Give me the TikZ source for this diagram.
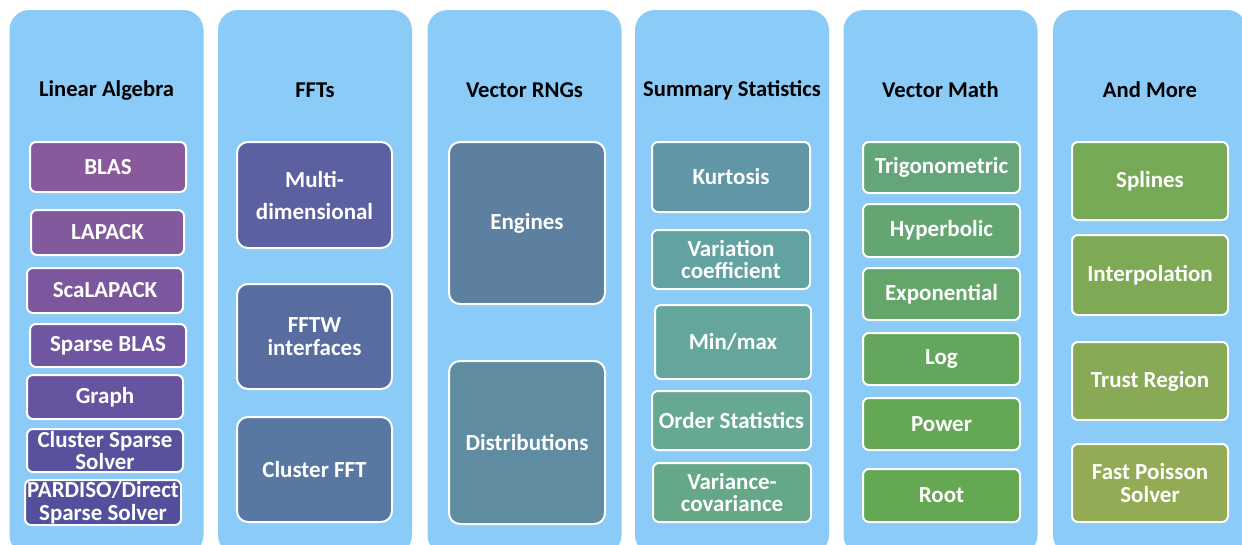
\documentclass[tikz,border=0pt]{standalone}
\usepackage{fontspec}
\setmainfont{Carlito}

\definecolor{panelblue}{RGB}{138,203,247}
\definecolor{la1}{RGB}{136,90,156}
\definecolor{la2}{RGB}{130,89,157}
\definecolor{la3}{RGB}{124,87,158}
\definecolor{la4}{RGB}{112,85,160}
\definecolor{la5}{RGB}{102,84,160}
\definecolor{la6}{RGB}{88,82,158}
\definecolor{la7}{RGB}{82,80,156}
\definecolor{fft1}{RGB}{90,96,160}
\definecolor{fft2}{RGB}{88,108,160}
\definecolor{fft3}{RGB}{88,120,162}
\definecolor{rng1}{RGB}{94,128,160}
\definecolor{rng2}{RGB}{96,140,162}
\definecolor{st1}{RGB}{96,150,165}
\definecolor{st2}{RGB}{98,162,162}
\definecolor{st3}{RGB}{100,166,155}
\definecolor{st4}{RGB}{102,168,146}
\definecolor{st5}{RGB}{100,168,136}
\definecolor{vm1}{RGB}{100,166,122}
\definecolor{vm2}{RGB}{100,166,114}
\definecolor{vm3}{RGB}{100,166,106}
\definecolor{vm4}{RGB}{100,166,92}
\definecolor{vm5}{RGB}{100,168,86}
\definecolor{vm6}{RGB}{100,168,84}
\definecolor{am1}{RGB}{118,170,86}
\definecolor{am2}{RGB}{126,170,86}
\definecolor{am3}{RGB}{136,170,86}
\definecolor{am4}{RGB}{146,172,86}

\tikzset{
  panel/.style={fill=panelblue, rounded corners=20pt, minimum width=194pt, minimum height=545pt, inner sep=0pt},
  coltitle/.style={font=\fontsize{22.6}{24}\selectfont\bfseries, text=black},
  item/.style={draw=white, line width=2pt, rounded corners=6pt, text=white, font=\fontsize{23}{22.5}\selectfont\bfseries, align=center, inner sep=0pt},
  bigitem/.style={item, rounded corners=11pt}
}

\begin{document}
\begin{tikzpicture}[x=1pt,y=-1pt]
  \useasboundingbox (0,0) rectangle (1242,544);
  \clip (0,0) rectangle (1242,544);
  \node[panel] (p1) at (106.5,282.5) {};
  \node[panel] (p2) at (315,282.5) {};
  \node[panel] (p3) at (524.5,282.5) {};
  \node[panel] (p4) at (732,282.5) {};
  \node[panel] (p5) at (940.5,282.5) {};
  \node[panel] (p6) at (1150,282.5) {};
  \node[coltitle] (t1) at (106.5,90) {Linear Algebra};
  \node[coltitle] (t2) at (315,90) {FFTs};
  \node[coltitle] (t3) at (524.5,90) {Vector RNGs};
  \node[coltitle] (t4) at (732,90) {Summary Statistics};
  \node[coltitle] (t5) at (940.5,90) {Vector Math};
  \node[coltitle] (t6) at (1150,90) {And More};
  % linear algebra
  \node[item, fill=la1, minimum width=156pt, minimum height=50pt] (blas) at (108,167) {BLAS};
  \node[item, fill=la2, minimum width=153pt, minimum height=45pt] (lapack) at (107.5,232.5) {LAPACK};
  \node[item, fill=la3, minimum width=156pt, minimum height=45pt] (scalapack) at (105,290.5) {ScaLAPACK};
  \node[item, fill=la4, minimum width=156pt, minimum height=43pt] (sparseblas) at (108,345.5) {Sparse BLAS};
  \node[item, fill=la5, minimum width=156pt, minimum height=44pt] (graph) at (105,397) {Graph};
  \node[item, fill=la6, minimum width=156pt, minimum height=43pt] (cluster) at (105,450.5) {Cluster Sparse\\Solver};
  \node[item, fill=la7, minimum width=156pt, minimum height=45pt] (pardiso) at (103,502.5) {PARDISO/Direct\\Sparse Solver};
  % ffts
  \node[bigitem, fill=fft1, minimum width=155pt, minimum height=106pt, font=\fontsize{23}{32}\selectfont\bfseries] (multidim) at (314.5,195) {Multi-\\dimensional};
  \node[bigitem, fill=fft2, minimum width=155pt, minimum height=105pt] (fftw) at (314.5,336.5) {FFTW\\interfaces};
  \node[bigitem, fill=fft3, minimum width=155pt, minimum height=105pt] (clusterfft) at (314.5,469.5) {Cluster FFT};
  % rngs
  \node[bigitem, fill=rng1, minimum width=156pt, minimum height=162pt] (engines) at (527,223) {Engines};
  \node[bigitem, fill=rng2, minimum width=156pt, minimum height=163pt] (distrib) at (527,442.5) {Distributions};
  % summary statistics
  \node[item, fill=st1, minimum width=158pt, minimum height=70pt] (kurtosis) at (731,177) {Kurtosis};
  \node[item, fill=st2, minimum width=158pt, minimum height=59pt] (variation) at (731,259.5) {Variation\\coefficient};
  \node[item, fill=st3, minimum width=156pt, minimum height=74pt] (minmax) at (733,342) {Min/max};
  \node[item, fill=st4, minimum width=159pt, minimum height=59pt] (orderstat) at (731.5,420.5) {Order Statistics};
  \node[item, fill=st5, minimum width=158pt, minimum height=59pt] (varcov) at (732,492.5) {Variance-\\covariance};
  % vector math
  \node[item, fill=vm1, minimum width=157pt, minimum height=51pt] (trig) at (941.5,167.5) {Trigonometric};
  \node[item, fill=vm2, minimum width=157pt, minimum height=53pt] (hyper) at (941.5,230.5) {Hyperbolic};
  \node[item, fill=vm3, minimum width=157pt, minimum height=52pt] (expo) at (941.5,294) {Exponential};
  \node[item, fill=vm4, minimum width=157pt, minimum height=52pt] (log) at (941.5,359) {Log};
  \node[item, fill=vm5, minimum width=157pt, minimum height=52pt] (power) at (941.5,424) {Power};
  \node[item, fill=vm6, minimum width=157pt, minimum height=53pt] (root) at (941.5,495.5) {Root};
  % and more
  \node[item, fill=am1, minimum width=156pt, minimum height=78pt] (splines) at (1150,181) {Splines};
  \node[item, fill=am2, minimum width=156pt, minimum height=80pt] (interp) at (1150,275) {Interpolation};
  \node[item, fill=am3, minimum width=156pt, minimum height=78pt] (trust) at (1150,381) {Trust Region};
  \node[item, fill=am4, minimum width=156pt, minimum height=78pt] (poisson) at (1150,483) {Fast Poisson\\Solver};
\end{tikzpicture}
\end{document}
